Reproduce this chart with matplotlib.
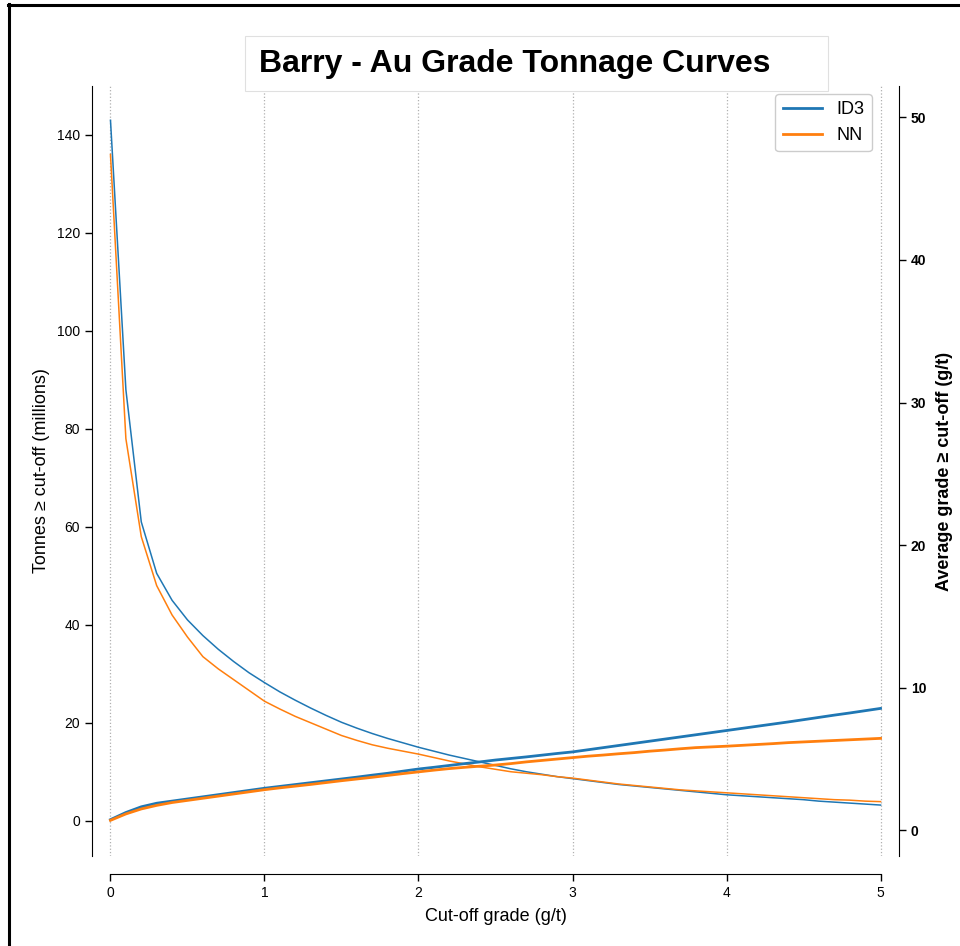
import matplotlib.pyplot as plt
from matplotlib.lines import Line2D
from matplotlib.patches import Rectangle

plt.rcParams['font.family'] = ['Liberation Sans', 'DejaVu Sans']

# cut-off grades (g/t)
cutoff = [round(0.1 * i, 1) for i in range(51)]

# tonnes above cut-off (millions)
tonnes_id3 = [143, 88, 61, 50.5, 45, 41, 37.8, 35, 32.5, 30.2,
              28.2, 26.3, 24.6, 23, 21.5, 20.1, 18.9, 17.8, 16.8, 15.9,
              15.0, 14.2, 13.4, 12.7, 12.0, 11.3, 10.6, 10.0, 9.5, 9.0,
              8.6, 8.2, 7.8, 7.4, 7.1, 6.8, 6.5, 6.2, 5.9, 5.6,
              5.3, 5.1, 4.9, 4.7, 4.5, 4.3, 4.0, 3.8, 3.6, 3.4, 3.2]
tonnes_nn = [136, 78, 58, 48, 42, 37.5, 33.5, 31, 28.8, 26.6,
             24.4, 22.8, 21.3, 20.0, 18.7, 17.4, 16.4, 15.5, 14.8, 14.2,
             13.6, 12.9, 12.2, 11.6, 11.0, 10.5, 10.0, 9.7, 9.4, 9.0,
             8.7, 8.3, 7.9, 7.5, 7.2, 6.9, 6.6, 6.3, 6.1, 5.9,
             5.7, 5.5, 5.3, 5.1, 4.9, 4.7, 4.5, 4.3, 4.2, 4.0, 3.9]

# average grade above cut-off (g/t)
grade_id3 = [0.75, 1.25, 1.65, 1.9, 2.05, 2.2, 2.35, 2.5, 2.65, 2.8,
             2.95, 3.08, 3.21, 3.34, 3.47, 3.6, 3.73, 3.87, 4.0, 4.15,
             4.3, 4.42, 4.55, 4.68, 4.8, 4.93, 5.04, 5.15, 5.27, 5.39,
             5.5, 5.65, 5.8, 5.95, 6.1, 6.25, 6.4, 6.55, 6.7, 6.85,
             7.0, 7.15, 7.3, 7.45, 7.6, 7.76, 7.92, 8.08, 8.23, 8.39, 8.55]
grade_nn = [0.7, 1.15, 1.5, 1.75, 1.95, 2.1, 2.25, 2.4, 2.55, 2.7,
            2.85, 2.98, 3.1, 3.22, 3.35, 3.48, 3.6, 3.72, 3.85, 3.98,
            4.1, 4.22, 4.33, 4.42, 4.5, 4.58, 4.68, 4.8, 4.9, 5.0,
            5.1, 5.2, 5.28, 5.37, 5.45, 5.55, 5.63, 5.72, 5.8, 5.85,
            5.9, 5.96, 6.02, 6.08, 6.15, 6.2, 6.25, 6.3, 6.35, 6.4, 6.45]

blue = '#1f77b4'
orange = '#ff7f0e'

fig = plt.figure(figsize=(9.6, 9.46), dpi=100)
ax = fig.add_axes([92 / 960, 1 - 856 / 946, (899 - 92) / 960, (856 - 86) / 946])
ax2 = ax.twinx()

# tonnage curves (left axis)
ax.plot(cutoff, tonnes_id3, color=blue, lw=1.1)
ax.plot(cutoff, tonnes_nn, color=orange, lw=1.1)

# grade curves (right axis)
ax2.plot(cutoff, grade_id3, color=blue, lw=2, label='ID3')
ax2.plot(cutoff, grade_nn, color=orange, lw=2, label='NN')

ax.set_xlim(-0.12, 5.12)
ax.set_ylim(-7.2, 150)
ax2.set_ylim(-1.8, 52.2)
ax.set_xticks([0, 1, 2, 3, 4, 5])
ax.set_yticks([0, 20, 40, 60, 80, 100, 120, 140])
ax2.set_yticks([0, 10, 20, 30, 40, 50])

ax.grid(axis='x', linestyle=':', color='#b0b0b0', lw=0.9)

for a in (ax, ax2):
    a.spines['top'].set_visible(False)
    a.spines['bottom'].set_visible(False)
ax.spines['bottom'].set_visible(True)
ax.spines['bottom'].set_position(('outward', 13))
ax.spines['bottom'].set_bounds(0, 5)
ax.spines['right'].set_visible(False)
ax2.spines['left'].set_visible(False)

ax.tick_params(axis='both', labelsize=10, length=5, width=1)
ax2.tick_params(axis='y', labelsize=10, length=5, width=1)
for lab in ax2.get_yticklabels():
    lab.set_fontweight('bold')

ax.set_xlabel('Cut-off grade (g/t)', fontsize=13, labelpad=6)
ax.set_ylabel('Tonnes ≥ cut-off (millions)', fontsize=13, labelpad=5)
ax2.set_ylabel('Average grade ≥ cut-off (g/t)', fontsize=13, fontweight='bold', labelpad=7)

ax2.legend(loc='upper right', fontsize=13, handlelength=2.2,
           bbox_to_anchor=(872 / 960, 1 - 94 / 946), bbox_transform=fig.transFigure,
           borderaxespad=0, edgecolor='#cccccc', framealpha=1)

# title in a box
fig.patches.append(Rectangle((245 / 960, 1 - 91 / 946), (828 - 245) / 960, 55 / 946,
                             transform=fig.transFigure, facecolor='white',
                             edgecolor='#e0e0e0', lw=0.8))
fig.text(259 / 960, 1 - 64 / 946, 'Barry - Au Grade Tonnage Curves',
         fontsize=23, fontweight='bold', ha='left', va='center')

# frame lines of the screenshot
fig.lines.append(Line2D([9 / 960, 9 / 960], [0, 1 - 4 / 946], transform=fig.transFigure,
                        color='black', lw=2.2))
fig.lines.append(Line2D([8 / 960, 1], [1 - 5 / 946, 1 - 5 / 946], transform=fig.transFigure,
                        color='black', lw=2.2))

fig.savefig('out.png', dpi=100)
